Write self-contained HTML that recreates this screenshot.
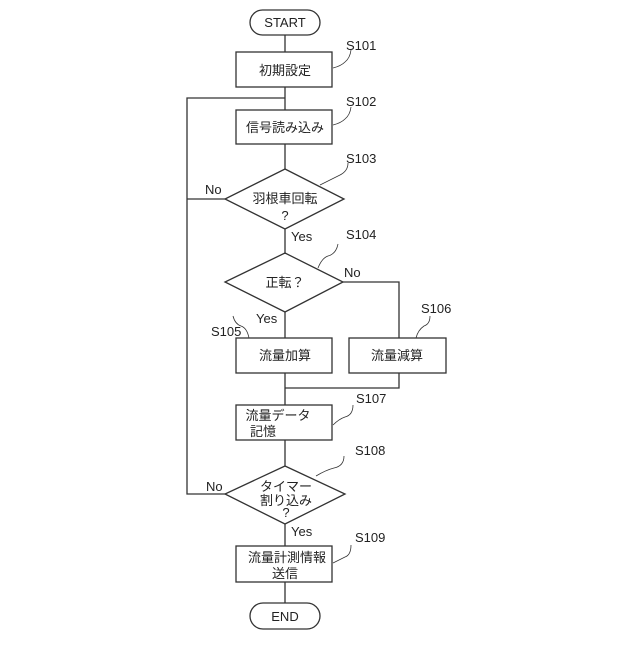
<!DOCTYPE html>
<html><head><meta charset="utf-8"><style>
body{margin:0;background:#fff}
svg text{font-family:"Liberation Sans","Noto Sans CJK JP",sans-serif;fill:#222}
</style></head><body>
<svg width="640" height="640" viewBox="0 0 640 640" xmlns="http://www.w3.org/2000/svg">
<g stroke="#333" stroke-width="1.3" fill="none">
<rect x="250" y="10" width="70" height="25" rx="12.5" fill="#fff"/>
<line x1="285" y1="35" x2="285" y2="52"/>
<rect x="236" y="52" width="96" height="35"/>
<line x1="285" y1="87" x2="285" y2="110"/>
<polyline points="285,98 187,98 187,494 225,494"/>
<polyline points="187,199 225,199"/>
<rect x="236" y="110" width="96" height="34"/>
<line x1="285" y1="144" x2="285" y2="169"/>
<polygon points="285,169 344,199 285,229 225,199"/>
<line x1="285" y1="229" x2="285" y2="253"/>
<polygon points="285,253 343,282 285,312 225,282"/>
<polyline points="343,282 399,282 399,338"/>
<line x1="285" y1="312" x2="285" y2="338"/>
<rect x="236" y="338" width="96" height="35"/>
<rect x="349" y="338" width="97" height="35"/>
<polyline points="399,373 399,388 285,388"/>
<line x1="285" y1="373" x2="285" y2="405"/>
<rect x="236" y="405" width="96" height="35"/>
<line x1="285" y1="440" x2="285" y2="466"/>
<polygon points="285,466 345,494 285,524 225,494"/>
<line x1="285" y1="524" x2="285" y2="546"/>
<rect x="236" y="546" width="96" height="36"/>
<line x1="285" y1="582" x2="285" y2="603"/>
<rect x="250" y="603" width="70" height="26" rx="13" fill="#fff"/>
<g stroke-width="0.8">
<path d="M333,68 q8,-2 12,-6 q5,-4 6,-12"/>
<path d="M333,125 q8,-2 12,-6 q5,-4 6,-12"/>
<path d="M320,185 q12,-6 20,-10 q8,-4 8,-12"/>
<path d="M318,268 q4,-10 10,-12 q8,-2 10,-12"/>
<path d="M249,338 q-2,-10 -8,-12 q-6,-2 -8,-10"/>
<path d="M416,338 q2,-8 8,-12 q6,-2 6,-10"/>
<path d="M333,425 q6,-6 12,-8 q8,-2 8,-12"/>
<path d="M316,476 q10,-6 18,-8 q10,-2 10,-12"/>
<path d="M333,563 q8,-4 12,-6 q6,-2 6,-12"/>
</g>
</g>
<g font-size="13" text-anchor="middle">
<text x="285" y="27">START</text>
<text x="285" y="75">初期設定</text>
<text x="285" y="132">信号読み込み</text>
<text x="285" y="203">羽根車回転</text>
<text x="285" y="220">?</text>
<text x="285" y="287">正転？</text>
<text x="285" y="360">流量加算</text>
<text x="397" y="360">流量減算</text>
<text x="278" y="420">流量データ</text>
<text x="263" y="436">記憶</text>
<text x="286" y="491">タイマー</text>
<text x="286" y="505">割り込み</text>
<text x="286" y="517">?</text>
<text x="287" y="562">流量計測情報</text>
<text x="285" y="578">送信</text>
<text x="285" y="621">END</text>
</g>
<g font-size="13">
<text x="346" y="50">S101</text>
<text x="346" y="106">S102</text>
<text x="346" y="163">S103</text>
<text x="346" y="239">S104</text>
<text x="211" y="336">S105</text>
<text x="421" y="313">S106</text>
<text x="356" y="403">S107</text>
<text x="355" y="455">S108</text>
<text x="355" y="542">S109</text>
<text x="205" y="194">No</text>
<text x="291" y="241">Yes</text>
<text x="344" y="277">No</text>
<text x="256" y="323">Yes</text>
<text x="206" y="491">No</text>
<text x="291" y="536">Yes</text>
</g>
</svg>
</body></html>
